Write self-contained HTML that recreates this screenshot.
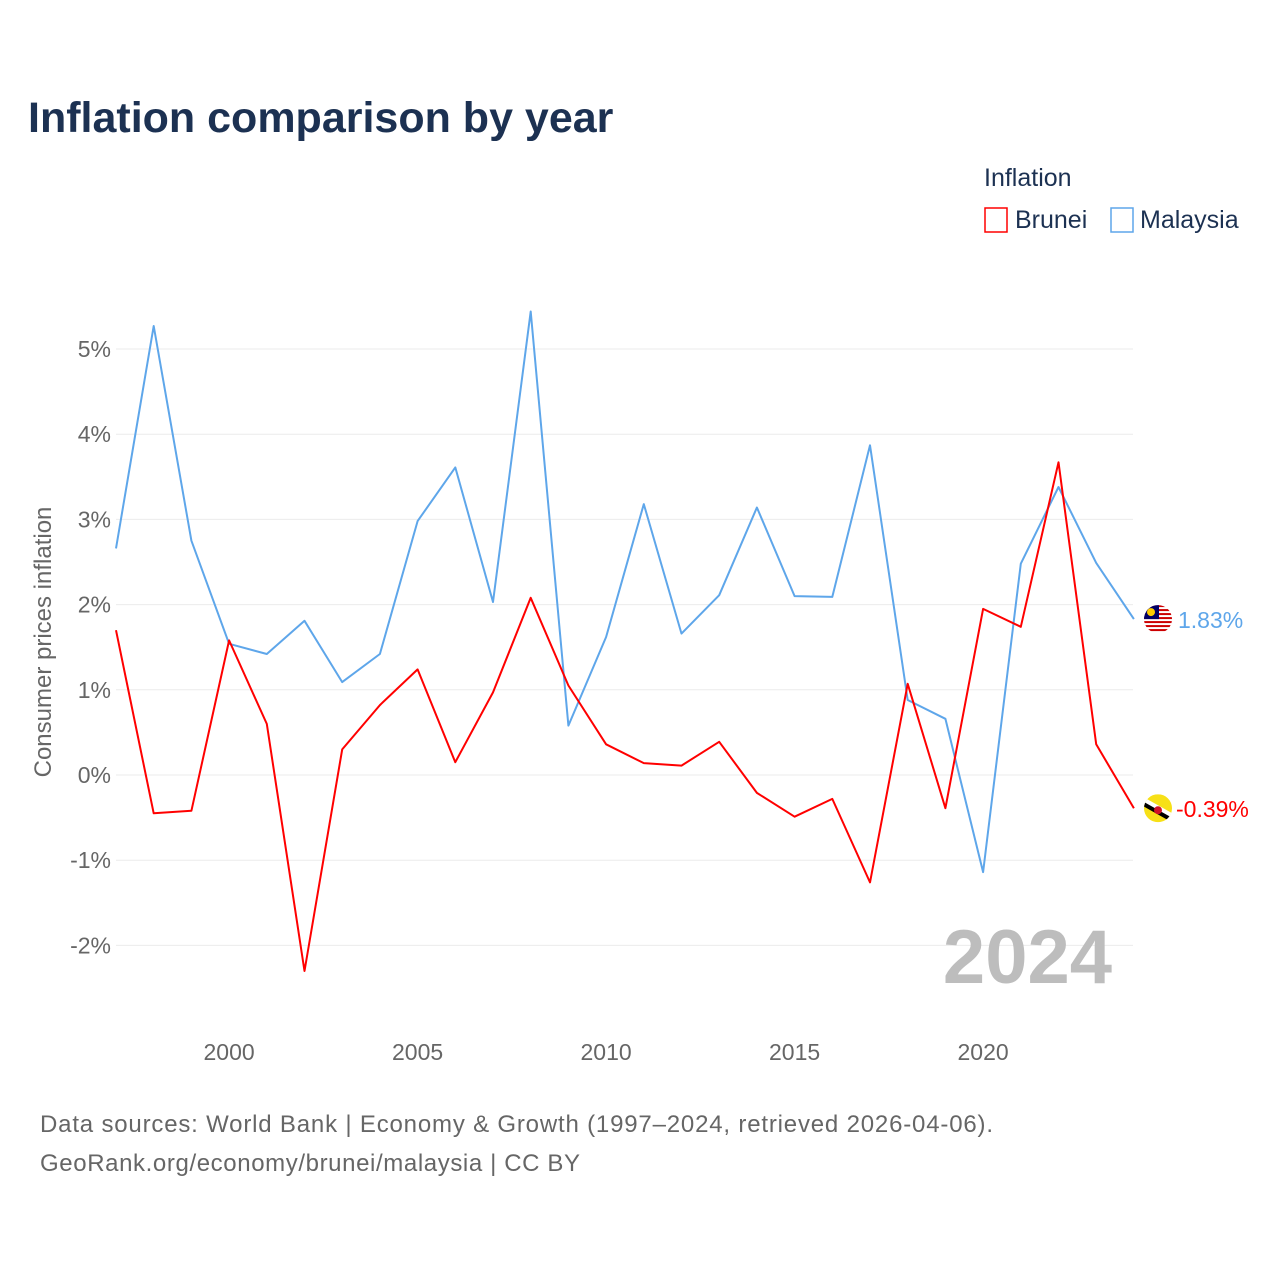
<!DOCTYPE html>
<html><head><meta charset="utf-8">
<style>
body{margin:0;background:#fff;font-family:"Liberation Sans",sans-serif;}
#wrap{position:relative;width:1280px;height:1280px;overflow:hidden;}
</style></head>
<body>
<div id="wrap">
<svg id="chart" width="1280" height="1280">
<text x="28" y="132" font-size="43" font-weight="bold" fill="#1c3152">Inflation comparison by year</text>
<text x="984" y="186" font-size="25" fill="#1c3152">Inflation</text>
<g>
<rect x="985" y="208" width="22" height="24" fill="none" stroke="#f00" stroke-width="1.5"/>
<text x="1015" y="228" font-size="25" fill="#1c3152">Brunei</text></g>
<g>
<rect x="1111" y="208" width="22" height="24" fill="none" stroke="#5ea6ea" stroke-width="1.5"/>
<text x="1140" y="228" font-size="25" fill="#1c3152">Malaysia</text></g>
<g id="grid"></g>
<text x="1112" y="983" font-size="76" font-weight="bold" fill="#bdbdbd" text-anchor="end">2024</text>
<g id="series"></g>
<text transform="translate(51,642) rotate(-90)" font-size="24" fill="#666" text-anchor="middle">Consumer prices inflation</text>
<text x="40" y="1132" font-size="24" fill="#666" textLength="953" lengthAdjust="spacing">Data sources: World Bank | Economy &amp; Growth (1997–2024, retrieved 2026-04-06).</text>
<text x="40" y="1171" font-size="24" fill="#666" textLength="540" lengthAdjust="spacing">GeoRank.org/economy/brunei/malaysia | CC BY</text>
</svg>
</div>
<script>
const years=[1997,1998,1999,2000,2001,2002,2003,2004,2005,2006,2007,2008,2009,2010,2011,2012,2013,2014,2015,2016,2017,2018,2019,2020,2021,2022,2023,2024];
const malaysia=[2.66,5.27,2.75,1.54,1.42,1.81,1.09,1.42,2.98,3.61,2.03,5.44,0.58,1.62,3.18,1.66,2.11,3.14,2.10,2.09,3.87,0.88,0.66,-1.14,2.48,3.38,2.49,1.83];
const brunei=[1.70,-0.45,-0.42,1.58,0.60,-2.30,0.30,0.82,1.24,0.15,0.97,2.08,1.05,0.36,0.14,0.11,0.39,-0.21,-0.49,-0.28,-1.26,1.07,-0.39,1.95,1.74,3.67,0.36,-0.39];
const yTicks=[-2,-1,0,1,2,3,4,5];
const xTicks=[2000,2005,2010,2015,2020];
const NS="http://www.w3.org/2000/svg";
const x=v=>116+(v-1997)*37.7;
const y=v=>775-v*85.2;
function mk(tag,attrs,parent){const e=document.createElementNS(NS,tag);for(const k in attrs)e.setAttribute(k,attrs[k]);parent.appendChild(e);return e;}
const grid=document.getElementById('grid'),ser=document.getElementById('series');
yTicks.forEach(t=>{
 const l=mk('line',{x1:116,x2:1133,y1:y(t),y2:y(t),stroke:'#ebebeb','stroke-width':1},grid);
 
 
 const tx=mk('text',{x:111,y:y(t)+8,'font-size':23,fill:'#666','text-anchor':'end'},grid);
 tx.textContent=t+'%';
 
 
});
xTicks.forEach(t=>{
 const tx=mk('text',{x:x(t),y:1060,'font-size':23,fill:'#666','text-anchor':'middle'},grid);
 tx.textContent=t;
 
 
});
function line(data,color,name){
 const d=data.map((v,i)=>(i?'L':'M')+x(years[i]).toFixed(1)+','+y(v).toFixed(1)).join('');
 const p=mk('path',{d:d,fill:'none',stroke:color,'stroke-width':2,'stroke-linejoin':'round'},ser);
 
 
}
line(malaysia,'#5ea6ea','malaysia-line');
line(brunei,'#ff0000','brunei-line');
const n=years.length-1;
const mx=1158,my=y(malaysia[n]);
const mg=mk('g',{},ser);


const cp=mk('clipPath',{id:'cm'},mg);mk('circle',{cx:mx,cy:my,r:14},cp);
const mgi=mk('g',{'clip-path':'url(#cm)'},mg);
mk('rect',{x:mx-14,y:my-14,width:28,height:28,fill:'#fff'},mgi);
for(let i=0;i<7;i++)mk('rect',{x:mx-14,y:my-14+i*4,width:28,height:2,fill:'#cc0001'},mgi);
mk('rect',{x:mx-14,y:my-14,width:15,height:14,fill:'#010066'},mgi);
mk('circle',{cx:mx-7,cy:my-7,r:4,fill:'#fc0'},mgi);
const mt=mk('text',{x:1178,y:my+9,'font-size':23,fill:'#5ea6ea'},ser);
mt.textContent=malaysia[n].toFixed(2)+'%';


const bx=1158,by=y(brunei[n]);
const bg=mk('g',{},ser);


const cb=mk('clipPath',{id:'cb'},bg);mk('circle',{cx:bx,cy:by,r:14},cb);
const bgi=mk('g',{'clip-path':'url(#cb)'},bg);
mk('rect',{x:bx-14,y:by-14,width:28,height:28,fill:'#f7e017'},bgi);
mk('line',{x1:bx-16,y1:by-8,x2:bx+16,y2:by+10,stroke:'#fff','stroke-width':7},bgi);
mk('line',{x1:bx-16,y1:by-5,x2:bx+16,y2:by+13,stroke:'#000','stroke-width':4},bgi);
mk('circle',{cx:bx,cy:by+2,r:4,fill:'#cf1126'},bgi);
const bt=mk('text',{x:1176,y:by+9,'font-size':23,fill:'#ff0000'},ser);
bt.textContent=brunei[n].toFixed(2)+'%';


</script>
</body></html>
